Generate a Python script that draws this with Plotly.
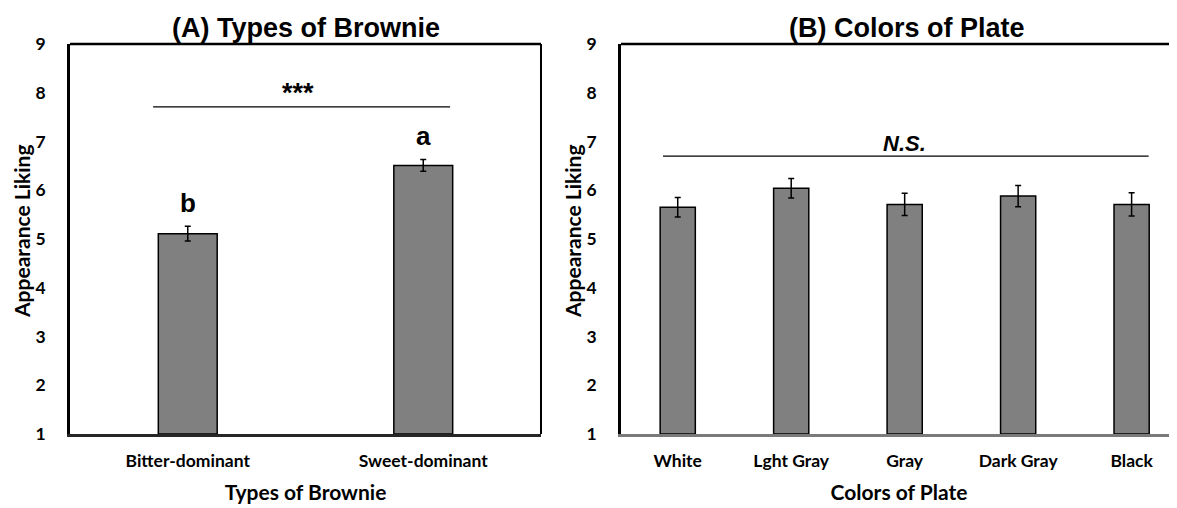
import plotly.graph_objects as go

# ---- data ----
brownie_types = ["Bitter-dominant", "Sweet-dominant"]
brownie_liking = [5.11, 6.51]
brownie_err = [0.15, 0.12]
brownie_letters = ["b", "a"]

plate_colors = ["White", "Lght Gray", "Gray", "Dark Gray", "Black"]
plate_liking = [5.65, 6.04, 5.71, 5.88, 5.71]
plate_err = [0.20, 0.20, 0.23, 0.22, 0.24]

y_ticks = [1, 2, 3, 4, 5, 6, 7, 8, 9]
y_title = "Appearance Liking"

W, H = 1177, 508
OFF = 8  # page body offset of the rendered figure
TICK_FONT = dict(family="Lato, 'Open Sans', sans-serif", size=17.5, color="black", weight="bold")
AX_TITLE_FONT = dict(family="Lato, 'Open Sans', sans-serif", size=21, color="black", weight="bold")
ARIAL = "Liberation Sans, Arial, sans-serif"

fig = go.Figure()

bar_style = dict(marker=dict(color="#808080", line=dict(color="black", width=1.5)),
                 showlegend=False, hoverinfo="skip")

fig.add_trace(go.Bar(
    x=brownie_types, y=[v - 1 for v in brownie_liking], base=1,
    error_y=dict(type="data", array=brownie_err, color="black", thickness=1.5, width=3),
    width=0.25, xaxis="x", yaxis="y", **bar_style))

fig.add_trace(go.Bar(
    x=plate_colors, y=[v - 1 for v in plate_liking], base=1,
    error_y=dict(type="data", array=plate_err, color="black", thickness=1.5, width=3),
    width=0.31, xaxis="x2", yaxis="y2", **bar_style))

ydom = [(H - (434 - OFF)) / H, (H - (44 - OFF)) / H]
xdomA = [(70 - OFF) / W, (541 - OFF) / W]
xdomB = [(621 - OFF) / W, (1177 - OFF) / W]

yaxis_common = dict(range=[1, 9], tickvals=y_ticks, showgrid=False, zeroline=False,
                    showline=True, linecolor="black", linewidth=2.5, ticks="",
                    tickfont=TICK_FONT, ticklabelstandoff=18, domain=ydom,
                    fixedrange=True, automargin=False)

fig.update_layout(
    width=W, height=H, margin=dict(l=0, r=0, t=0, b=0, autoexpand=False),
    paper_bgcolor="white", plot_bgcolor="white",
    xaxis=dict(domain=xdomA, range=[-0.5, 1.5], showgrid=False, zeroline=False,
               showline=True, linecolor="#262626", linewidth=2.5, ticks="",
               tickfont=TICK_FONT, ticklabelstandoff=9, automargin=False,
               title=dict(text="Types of Brownie", font=AX_TITLE_FONT, standoff=16),
               anchor="y", fixedrange=True),
    yaxis=dict(**yaxis_common, anchor="x"),
    xaxis2=dict(domain=xdomB, range=[-0.5, 4.4], showgrid=False, zeroline=False,
                showline=True, linecolor="#7a7a7a", linewidth=2.5, ticks="",
                tickfont=TICK_FONT, ticklabelstandoff=9, automargin=False,
                title=dict(text="Colors of Plate", font=AX_TITLE_FONT, standoff=16),
                anchor="y2", fixedrange=True),
    yaxis2=dict(**yaxis_common, anchor="x2"),
    bargap=0.75,
)

# frame borders (top / right)
fig.add_shape(type="line", xref="x domain", yref="y domain", x0=0, x1=1, y0=1, y1=1,
              line=dict(color="black", width=2.5))
fig.add_shape(type="line", xref="x domain", yref="y domain", x0=1, x1=1, y0=0, y1=1,
              line=dict(color="black", width=2))
fig.add_shape(type="line", xref="x2 domain", yref="y2 domain", x0=0, x1=1, y0=1, y1=1,
              line=dict(color="black", width=2.5))

# significance lines
fig.add_shape(type="line", xref="x", yref="y", x0=-0.147, x1=1.114, y0=7.71, y1=7.71,
              line=dict(color="black", width=1.2))
fig.add_shape(type="line", xref="x2", yref="y2", x0=-0.13, x1=4.15, y0=6.70, y1=6.70,
              line=dict(color="black", width=1.2))

TITLE_Y = 1 - (28 - OFF) / H
YTITLE_Y = 1 - (232 - OFF) / H
ann = [
    dict(text="<b>(A) Types of Brownie</b>", x=0.5, xref="x domain", y=TITLE_Y, yref="paper",
         yanchor="middle", showarrow=False, font=dict(family=ARIAL, size=27, color="black")),
    dict(text="<b>(B) Colors of Plate</b>", x=2.02, xref="x2", y=TITLE_Y, yref="paper",
         yanchor="middle", showarrow=False, font=dict(family=ARIAL, size=27, color="black")),
    dict(text=y_title, x=(21 - OFF) / W, xref="paper", y=YTITLE_Y, yref="paper",
         xanchor="center", yanchor="middle", textangle=-90, showarrow=False,
         font=AX_TITLE_FONT),
    dict(text=y_title, x=(572 - OFF) / W, xref="paper", y=YTITLE_Y, yref="paper",
         xanchor="center", yanchor="middle", textangle=-90, showarrow=False,
         font=AX_TITLE_FONT),
    dict(text="<b>***</b>", x=0.47, xref="x", y=8.0, yref="y", showarrow=False,
         font=dict(family=ARIAL, size=27, color="black")),
    dict(text="<b><i>N.S.</i></b>", x=2.0, xref="x2", y=6.95, yref="y2", showarrow=False,
         font=dict(family=ARIAL, size=22, color="black")),
]
for cat, v, e, letter in zip(brownie_types, brownie_liking, brownie_err, brownie_letters):
    ann.append(dict(text=f"<b>{letter}</b>", x=cat, xref="x", y=v + e + 0.48, yref="y",
                    showarrow=False, font=dict(family=ARIAL, size=26, color="black")))
fig.update_layout(annotations=ann)

fig.write_html("out.html")
